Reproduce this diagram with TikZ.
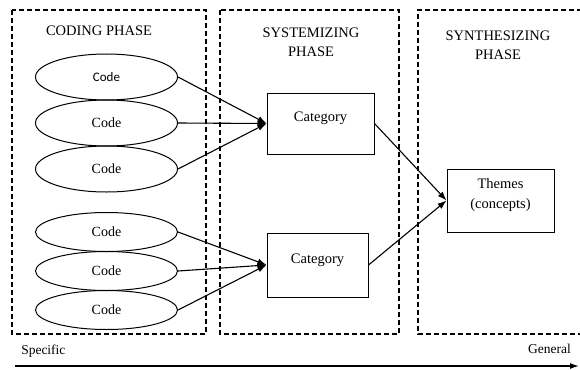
\documentclass[tikz,border=0pt]{standalone}
\usepackage{fontspec}
\setmainfont{Liberation Serif}
\newfontfamily\calibrifont{Carlito}
\usetikzlibrary{shapes.geometric,arrows.meta}

\tikzset{every picture/.style={line width=1pt}}
\tikzset{
  phasebox/.style={line width=1.4pt, dash pattern=on 5pt off 3pt},
  codenode/.style={draw, ellipse, minimum width=142pt, inner sep=0pt, font=\fontsize{14}{16}\selectfont},
  catnode/.style={draw, rectangle, inner sep=0pt, font=\fontsize{14.5}{20}\selectfont, align=center},
  headnode/.style={inner sep=0.75pt, font=\fontsize{14.5}{19}\selectfont, align=center},
  linkarrow/.style={-{Latex[length=9pt,width=6.5pt]}, line width=1.1pt}
}

\begin{document}
\begin{tikzpicture}[x=1pt,y=1pt,yscale=-1,xscale=1]
\useasboundingbox (0,0) rectangle (580,369);

%Shape: Dashed Rect [coding]
\draw [phasebox] (12,10) rectangle (206,334);
%Shape: Dashed Rect [systemizing]
\draw [phasebox] (220,10) rectangle (399,334);
%Shape: Dashed Open Rect [synthesizing]
\draw [phasebox] (582,10) -- (418,10) -- (418,334) -- (582,334);

% Text Node
\node [headnode] (hcod) at (99,31) {CODING PHASE};
% Text Node
\node [headnode] (hsys) at (311,42) {SYSTEMIZING\\PHASE};
% Text Node
\node [headnode] (hsyn) at (498,45) {SYNTHESIZING\\PHASE};

%Ellipses: upper group
\node [codenode, minimum height=46pt, font=\calibrifont\fontsize{13}{15}\selectfont] (c1) at (106.5,77) {Code};
\node [codenode, minimum height=46pt] (c2) at (106.5,123) {Code};
\node [codenode, minimum height=46pt] (c3) at (106.5,169) {Code};
%Ellipses: lower group
\node [codenode, minimum height=39pt] (c4) at (106.5,232) {Code};
\node [codenode, minimum height=39pt] (c5) at (106.5,271) {Code};
\node [codenode, minimum height=39pt] (c6) at (106.5,310) {Code};

%Boxes
\node [catnode, minimum width=107pt, minimum height=61pt, text depth=13pt] (cat1) at (320.5,123.5) {Category};
\node [catnode, minimum width=101pt, minimum height=64pt, text depth=13pt] (cat2) at (317.5,265) {Category};
\node [catnode, minimum width=107pt, minimum height=63pt] (themes) at (500.5,200.5) {Themes\\(concepts)\\[-6pt]};

%Straight Lines
\draw [linkarrow] (c1.east) -- (cat1.west);
\draw [linkarrow] (c2.east) -- (cat1.west);
\draw [linkarrow] (c3.east) -- (cat1.west);
\draw [linkarrow] (c4.east) -- (cat2.west);
\draw [linkarrow] (c5.east) -- (cat2.west);
\draw [linkarrow] (c6.east) -- (cat2.west);
\draw [linkarrow] (cat1.east) -- (themes.west);
\draw [linkarrow] (cat2.east) -- (themes.west);

%Axis
\coordinate (spec) at (15,366);
\coordinate (gen) at (579,366);
\draw [-{Latex[length=9pt,width=6pt]}, line width=1.4pt] (spec) -- (gen);
% Text Node
\node [headnode, anchor=west, font=\fontsize{13.5}{16}\selectfont] (lspec) at (20,351) {Specific};
% Text Node
\node [headnode, anchor=east, font=\fontsize{13.5}{16}\selectfont] (lgen) at (572,349) {General};

\end{tikzpicture}
\end{document}
